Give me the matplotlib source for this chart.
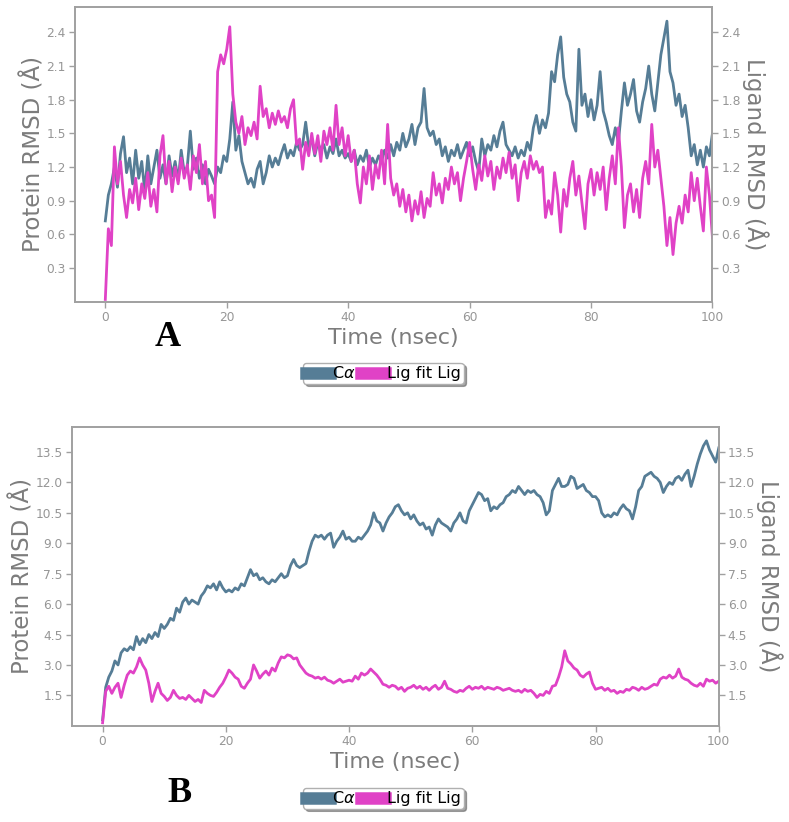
import numpy as np
import matplotlib
matplotlib.use("Agg")
import matplotlib.pyplot as plt
from matplotlib.lines import Line2D

# sampling grid of the trajectory (ns)
time_ns = np.linspace(0, 100, 201)

# panel A: protein C-alpha RMSD (left axis) and ligand RMSD (right axis)
prot_a = [
    0.72, 0.95, 1.05, 1.20, 1.02, 1.32, 1.47, 1.15, 1.28, 1.05,
    1.35, 1.10, 1.25, 0.98, 1.30, 1.05, 1.20, 1.35, 1.10, 1.22,
    1.05, 1.30, 1.12, 1.25, 1.08, 1.35, 1.15, 1.20, 1.52, 1.18,
    1.28, 1.10, 1.22, 1.05, 1.18, 1.12, 1.05, 1.20, 1.15, 1.30,
    1.25, 1.45, 1.78, 1.35, 1.48, 1.25, 1.15, 1.05, 1.10, 1.02,
    1.18, 1.25, 1.05, 1.15, 1.30, 1.20, 1.28, 1.22, 1.32, 1.40,
    1.28, 1.35, 1.30, 1.42, 1.35, 1.40, 1.60, 1.38, 1.45, 1.30,
    1.42, 1.35, 1.40, 1.28, 1.38, 1.32, 1.45, 1.30, 1.35, 1.28,
    1.32, 1.25, 1.35, 1.22, 1.30, 1.25, 1.35, 1.20, 1.28, 1.22,
    1.30, 1.25, 1.35, 1.28, 1.40, 1.30, 1.42, 1.35, 1.50, 1.38,
    1.45, 1.58, 1.40, 1.55, 1.60, 1.90, 1.55, 1.48, 1.52, 1.40,
    1.45, 1.30, 1.38, 1.25, 1.35, 1.30, 1.40, 1.28, 1.35, 1.42,
    1.30, 1.38, 1.25, 1.16, 1.45, 1.30, 1.40, 1.35, 1.48, 1.38,
    1.52, 1.60, 1.40, 1.35, 1.30, 1.38, 1.28, 1.35, 1.30, 1.42,
    1.35, 1.55, 1.66, 1.50, 1.62, 1.55, 1.68, 2.05, 1.96, 2.20,
    2.36, 2.00, 1.85, 1.78, 1.60, 1.52, 2.25, 1.75, 1.85, 1.65,
    1.80, 1.62, 1.75, 2.05, 1.70, 1.60, 1.48, 1.40, 1.55, 1.42,
    1.70, 1.95, 1.75, 1.85, 1.98, 1.70, 1.60, 1.78, 1.90, 2.10,
    1.85, 1.70, 1.95, 2.20, 2.35, 2.50, 2.05, 1.95, 1.75, 1.85,
    1.65, 1.75, 1.55, 1.30, 1.40, 1.22, 1.35, 1.20, 1.38, 1.30,
    1.50,
]
lig_a = [
    0.02, 0.65, 0.50, 1.38, 1.05, 1.25, 0.95, 0.75, 1.00, 0.88,
    1.10, 0.82, 1.05, 0.92, 1.15, 0.85, 1.00, 0.80, 1.30, 1.48,
    1.05, 1.25, 0.98, 1.20, 1.05, 1.28, 1.10, 1.22, 1.00, 1.30,
    1.15, 1.40, 1.05, 1.25, 0.90, 0.95, 0.75, 2.05, 2.20, 2.12,
    2.25, 2.45, 1.85, 1.60, 1.50, 1.65, 1.40, 1.55, 1.48, 1.60,
    1.45, 1.92, 1.65, 1.72, 1.55, 1.68, 1.58, 1.70, 1.60, 1.65,
    1.55, 1.72, 1.80, 1.40, 1.45, 1.18, 1.42, 1.30, 1.50, 1.32,
    1.48, 1.25, 1.52, 1.40, 1.55, 1.35, 1.75, 1.40, 1.55, 1.30,
    1.48, 1.25, 1.35, 1.05, 0.88, 1.20, 1.05, 1.30, 1.00, 1.22,
    1.10, 1.35, 1.05, 1.58, 1.10, 0.95, 1.05, 0.85, 1.00, 0.80,
    0.95, 0.72, 0.90, 0.78, 0.98, 0.75, 0.92, 0.85, 1.15, 0.95,
    1.05, 0.88, 1.10, 1.00, 1.20, 1.05, 1.15, 0.90, 1.10, 1.25,
    1.42, 1.18, 1.00, 1.22, 1.08, 1.30, 1.12, 1.25, 1.00, 1.20,
    1.10, 1.28, 1.15, 1.33, 1.10, 1.22, 0.90, 1.15, 1.25, 1.10,
    1.30, 1.18, 1.25, 1.15, 1.20, 0.75, 0.90, 0.78, 1.15, 0.95,
    0.62, 1.00, 0.85, 1.10, 1.25, 0.95, 1.12, 0.88, 0.65, 1.05,
    1.18, 0.95, 1.15, 1.00, 1.20, 0.82, 1.10, 1.30, 1.05, 1.55,
    1.20, 0.66, 0.95, 1.05, 0.80, 1.00, 0.75, 1.10, 1.25, 1.05,
    1.58, 1.20, 1.35, 1.10, 0.85, 0.50, 0.75, 0.42, 0.70, 0.85,
    0.70, 0.95, 0.80, 1.15, 0.90, 1.10, 0.85, 0.63, 1.20, 0.95,
    0.57,
]

# panel B
prot_b = [
    0.30, 1.90, 2.40, 2.70, 3.20, 3.00, 3.60, 3.80, 3.70, 3.90,
    3.75, 4.40, 4.00, 4.30, 4.10, 4.50, 4.30, 4.60, 4.40, 5.00,
    4.80, 5.00, 5.30, 5.20, 5.80, 5.60, 6.10, 6.30, 6.00, 6.20,
    6.10, 6.00, 6.40, 6.60, 6.90, 6.80, 7.00, 6.70, 7.10, 6.80,
    6.60, 6.70, 6.60, 6.80, 6.70, 7.00, 6.90, 7.30, 7.70, 7.40,
    7.50, 7.20, 7.30, 7.10, 7.00, 7.20, 7.10, 7.30, 7.50, 7.30,
    7.40, 7.90, 8.20, 7.90, 7.80, 7.90, 8.00, 8.60, 9.10, 9.40,
    9.30, 9.40, 9.20, 9.40, 9.50, 8.80, 9.10, 9.30, 9.60, 9.20,
    9.30, 9.10, 9.10, 9.30, 9.20, 9.40, 9.60, 9.90, 10.50, 10.10,
    10.00, 9.60, 10.00, 10.30, 10.50, 10.80, 10.90, 10.60, 10.40, 10.50,
    10.20, 10.40, 10.10, 9.90, 10.00, 9.70, 9.80, 9.40, 9.90, 10.20,
    10.00, 9.90, 9.80, 9.60, 10.00, 10.20, 10.50, 10.10, 10.00, 10.60,
    10.90, 11.20, 11.50, 11.40, 11.10, 11.20, 10.60, 10.80, 10.70, 10.90,
    11.00, 11.30, 11.40, 11.60, 11.50, 11.80, 11.60, 11.40, 11.60, 11.50,
    11.60, 11.40, 11.30, 11.00, 10.40, 10.60, 11.60, 11.90, 12.20, 11.80,
    11.80, 11.90, 12.30, 12.20, 11.70, 11.80, 11.90, 11.60, 11.50, 11.30,
    11.30, 11.10, 10.50, 10.30, 10.40, 10.30, 10.50, 10.40, 10.70, 10.90,
    10.70, 10.60, 10.20, 10.80, 11.60, 11.80, 12.30, 12.40, 12.50, 12.30,
    12.20, 12.00, 11.50, 11.80, 12.00, 11.90, 12.20, 12.30, 12.10, 12.40,
    12.60, 11.80, 12.30, 12.90, 13.40, 13.80, 14.05, 13.60, 13.30, 13.00,
    13.70,
]
lig_b = [
    0.15, 1.70, 1.95, 1.60, 1.90, 2.10, 1.40, 2.00, 2.50, 2.70,
    2.60, 2.90, 3.35, 3.00, 2.75, 2.10, 1.20, 1.70, 2.10, 1.60,
    1.45, 1.25, 1.40, 1.75, 1.50, 1.35, 1.40, 1.30, 1.50, 1.35,
    1.20, 1.30, 1.15, 1.75, 1.60, 1.50, 1.45, 1.65, 1.90, 2.10,
    2.40, 2.75, 2.60, 2.40, 2.30, 1.95, 1.85, 2.10, 2.30, 3.00,
    2.70, 2.35, 2.55, 2.70, 2.50, 2.85, 2.70, 3.10, 3.40, 3.35,
    3.50, 3.45, 3.30, 3.35, 3.00, 2.80, 2.60, 2.50, 2.45, 2.35,
    2.40, 2.30, 2.40, 2.25, 2.20, 2.10, 2.20, 2.30, 2.15, 2.20,
    2.25, 2.20, 2.45, 2.30, 2.60, 2.50, 2.60, 2.80, 2.65, 2.50,
    2.30, 2.05, 2.00, 1.90, 2.00, 1.95, 1.80, 1.90, 1.70, 1.85,
    1.90, 2.00, 1.85, 1.95, 1.80, 1.90, 1.75, 1.90, 2.00, 1.80,
    1.90, 2.20, 1.85, 1.80, 1.70, 1.65, 1.75, 1.70, 1.85, 1.95,
    1.80, 1.90, 1.85, 1.95, 1.80, 1.90, 1.85, 1.80, 1.90, 1.85,
    1.75, 1.80, 1.85, 1.75, 1.70, 1.75, 1.65, 1.80, 1.70, 1.75,
    1.60, 1.40, 1.55, 1.50, 1.70, 1.60, 1.95, 2.00, 2.40, 2.90,
    3.70, 3.20, 3.05, 2.85, 2.75, 2.50, 2.40, 2.55, 2.65, 2.10,
    1.80, 1.85, 1.90, 1.75, 1.85, 1.70, 1.75, 1.60, 1.70, 1.65,
    1.80, 1.75, 1.90, 1.85, 1.75, 1.90, 1.80, 1.85, 1.95, 2.05,
    2.00, 2.30, 2.40, 2.35, 2.50, 2.35, 2.45, 2.80, 2.40, 2.30,
    2.25, 2.10, 2.00, 1.95, 2.10, 1.95, 2.30, 2.20, 2.25, 2.10,
    2.20,
]

xticks = [0, 20, 40, 60, 80, 100]
yticks_a = [0.3, 0.6, 0.9, 1.2, 1.5, 1.8, 2.1, 2.4]
yticks_b = [1.5, 3.0, 4.5, 6.0, 7.5, 9.0, 10.5, 12.0, 13.5]
legend_labels = [r"C$\alpha$", "Lig fit Lig"]

PROT_COLOR = "#567d96"
LIG_COLOR = "#e042c6"
SPINE_GREY = "#a0a0a0"
TICK_GREY = "#969696"
LABEL_GREY = "#7c7c7c"


def draw_panel(fig, rect, prot, lig, yticks, ymax, letter, letter_xy, legend_y):
    ax = fig.add_axes(rect)
    ax2 = ax.twinx()

    ax.plot(time_ns, prot, color=PROT_COLOR, lw=2.0)
    ax2.plot(time_ns, lig, color=LIG_COLOR, lw=2.0)

    for a in (ax, ax2):
        a.set_xlim(-5, 100)
        a.set_ylim(0, ymax)
        a.set_yticks(yticks)
        a.set_yticklabels([f"{v:.1f}" for v in yticks])
        for s in a.spines.values():
            s.set_color(SPINE_GREY)
            s.set_linewidth(1.2)
        a.tick_params(colors=SPINE_GREY, labelcolor=TICK_GREY, labelsize=8.8,
                      length=4, width=1, pad=2.5)
    ax.set_xticks(xticks)
    ax.set_xticklabels([str(v) for v in xticks])

    ax.set_xlabel("Time (nsec)", fontsize=16, color=LABEL_GREY, labelpad=3)
    ax.set_ylabel("Protein RMSD (Å)", fontsize=16.5, color=LABEL_GREY, labelpad=1)
    ax2.set_ylabel("Ligand RMSD (Å)", fontsize=16.5, color=LABEL_GREY,
                   rotation=270, va="bottom", labelpad=1)

    fig.text(letter_xy[0], letter_xy[1], letter, fontsize=26, fontweight="bold",
             family="Liberation Serif", ha="center", va="center")

    handles = [Line2D([], [], color=PROT_COLOR, lw=9),
               Line2D([], [], color=LIG_COLOR, lw=9)]
    fig.legend(handles, legend_labels, loc="center",
               bbox_to_anchor=(0.486, legend_y), ncol=2, fontsize=11.5,
               handlelength=1.5, handletextpad=0.15, columnspacing=0.35,
               borderpad=0.15, borderaxespad=0, fancybox=True, shadow=True,
               framealpha=1, edgecolor="#b0b0b0")
    return ax, ax2


fig = plt.figure(figsize=(7.89, 8.22), dpi=100)

draw_panel(fig, [0.095, 0.633, 0.808, 0.359], prot_a, lig_a, yticks_a, 2.63,
           "A", (0.213, 0.589), 0.546)
draw_panel(fig, [0.091, 0.117, 0.820, 0.364], prot_b, lig_b, yticks_b, 14.75,
           "B", (0.228, 0.035), 0.029)

fig.savefig("out.png", dpi=100)
